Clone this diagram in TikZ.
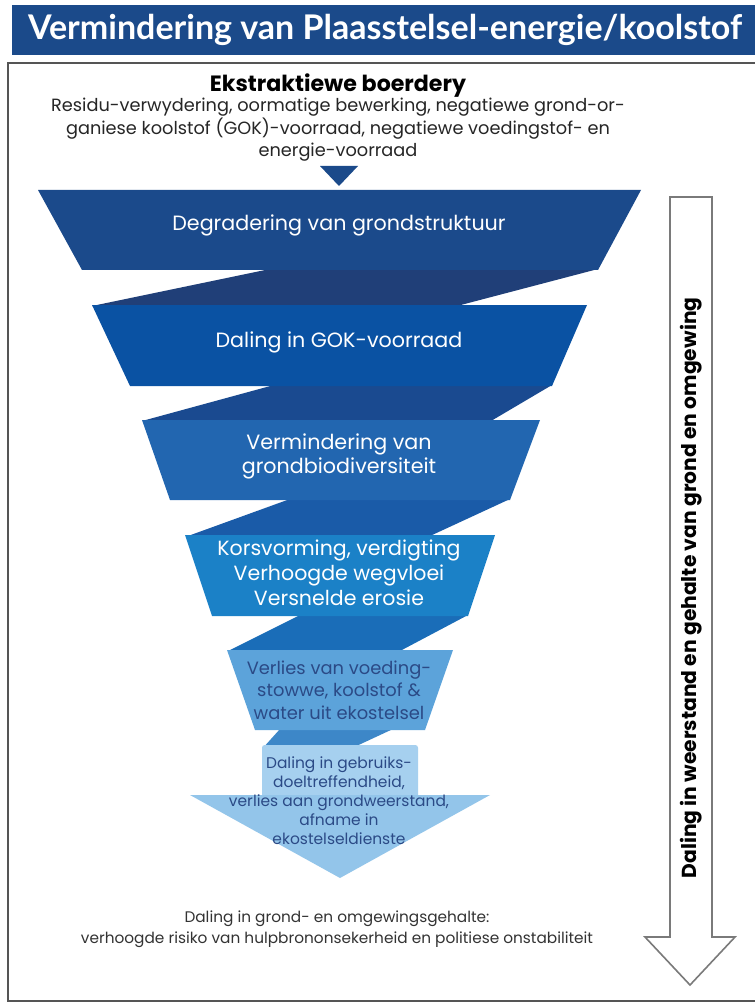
\documentclass[tikz,border=0pt]{standalone}
\usepackage{fontspec}
\setmainfont{Poppins}
\newfontfamily\titlefont{Lato}
\definecolor{titleblue}{HTML}{1B4A8A}
\definecolor{bandA}{HTML}{1B4A8B}
\definecolor{bandB}{HTML}{0A52A3}
\definecolor{bandC}{HTML}{2266B0}
\definecolor{bandD}{HTML}{1B81C7}
\definecolor{bandE}{HTML}{5CA3DA}
\definecolor{bandF}{HTML}{93C5EA}
\definecolor{boxF}{HTML}{A6D0EF}
\definecolor{linkA}{HTML}{203F78}
\definecolor{linkB}{HTML}{1A4A90}
\definecolor{linkC}{HTML}{1A5BA8}
\definecolor{linkD}{HTML}{1A6DB8}
\definecolor{linkE}{HTML}{3D87C8}
\definecolor{darktext}{HTML}{2B4A86}
\definecolor{framegray}{HTML}{555555}
\definecolor{arrowgray}{HTML}{7A7A7A}
\tikzset{
  titletext/.style={text=white,font=\titlefont\bfseries\fontsize{25.5}{30}\selectfont},
  headtext/.style={font=\bfseries\fontsize{16.6}{19}\selectfont},
  desctext/.style={align=center,text=black!85,font=\fontsize{13.3}{16.9}\selectfont},
  bandtext/.style={align=center,text=white,font=\fontsize{15.5}{18}\selectfont},
  bigtext/.style={align=center,text=white,font=\fontsize{15.4}{18.75}\selectfont},
  softtext/.style={align=center,text=darktext,font=\fontsize{13.4}{16.9}\selectfont},
  smalltext/.style={align=center,text=darktext,font=\fontsize{11.6}{14.25}\selectfont},
  sidetext/.style={font=\bfseries\fontsize{15.2}{17}\selectfont},
  foottext/.style={align=center,text=black!80,font=\fontsize{11.5}{15.75}\selectfont}
}
\begin{document}
\begin{tikzpicture}[x=0.75pt,y=-0.75pt]
\useasboundingbox (0,0) rectangle (755,1005);
\fill[white] (0,0) rectangle (755,1005);
% title bar
\fill[titleblue] (12,5) rectangle (760,55);
\node[titletext] (title) at (385,30) {Vermindering van Plaasstelsel-energie/koolstof};
\draw[framegray,line width=1.5pt] (762,63) -- (8,63) -- (8,1001) -- (762,1001);
% top
\node[headtext] (boerdery) at (338,86) {Ekstraktiewe boerdery};
\node[desctext] (residu) at (338,130) {Residu-verwydering, oormatige bewerking, negatiewe grond-or-\\ganiese koolstof (GOK)-voorraad, negatiewe voedingstof- en\\energie-voorraad};
\fill[titleblue] (320,166) -- (358,166) -- (339,186) -- cycle;
% links between the bands
\foreach \ty/\tl/\tr/\by/\bl/\br/\col in {270/270/598/305/92/457/linkA,386/274/552/420/142/491/linkB,
  500/290/510/535/188/430/linkC,616/300/468/650/228/400/linkD,730/280/393/748/262/350/linkE}
\fill[\col] (\tl,\ty-1) -- (\tr,\ty-1) -- (\br,\by+1) -- (\bl,\by+1) -- cycle;
% funnel bands
\foreach \ty/\tl/\tr/\by/\bl/\br/\col in {190/38/641/270/82/598/bandA,305/92/587/386/130/552/bandB,
  420/142/540/500/170/510/bandC,535/185/495/616/212/468/bandD,650/227/453/730/255/425/bandE}
\fill[\col] (\tl,\ty) -- (\tr,\ty) -- (\br,\by) -- (\bl,\by) -- cycle;
\fill[boxF,rounded corners=2pt] (262,800) -- (262,745) -- (418,745) -- (418,800) -- cycle;
\fill[bandF] (190,795) -- (490,795) -- (340,878) -- cycle;
\node[bandtext] (struktuur) at (339,225) {Degradering van grondstruktuur};
\node[bandtext] (gok) at (339,342) {Daling in GOK-voorraad};
\node[bandtext] (biodiv) at (339,456) {Vermindering van\\grondbiodiversiteit};
\node[bigtext] (erosie) at (339,573) {Korsvorming, verdigting\\Verhoogde wegvloei\\Versnelde erosie};
\node[softtext] (verlies) at (339,690) {Verlies van voeding-\\stowwe, koolstof \&\\water uit ekostelsel};
\node[smalltext] (gebruik) at (339,801) {Daling in gebruiks-\\doeltreffendheid,\\verlies aan grondweerstand,\\afname in\\ekostelseldienste};
% side arrow
\draw[arrowgray,line width=1.2pt,fill=white] (670,197) -- (712,197) -- (712,937) -- (735,937)
  -- (690,985) -- (645,937) -- (670,937) -- cycle;
\node[sidetext,rotate=90] (weerstand) at (691,588) {Daling in weerstand en gehalte van grond en omgewing};
% bottom
\node[foottext] (gehalte) at (337,929) {Daling in grond- en omgewingsgehalte:\\verhoogde risiko van hulpbrononsekerheid en politiese onstabiliteit};
\end{tikzpicture}
\end{document}
